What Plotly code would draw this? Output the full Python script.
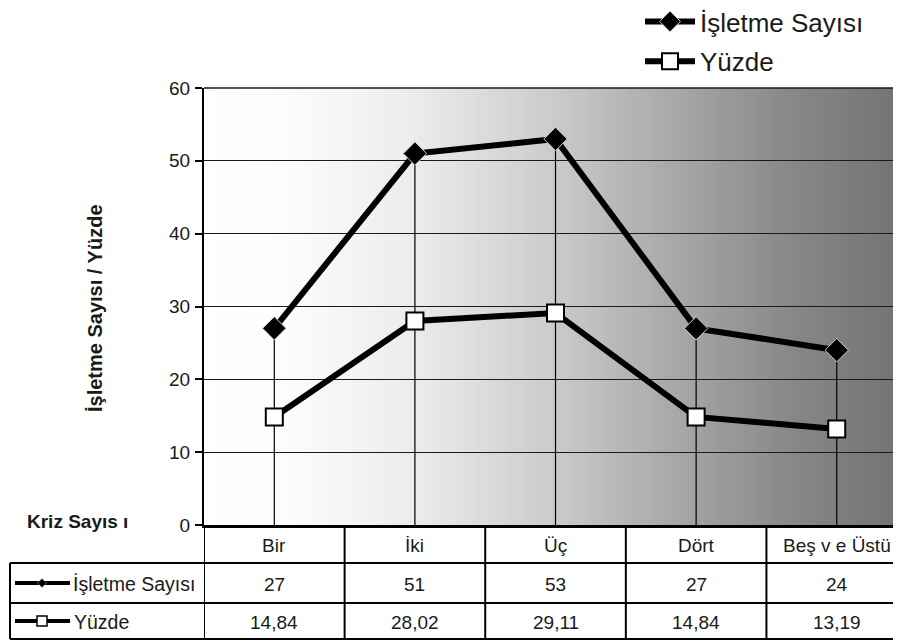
import plotly.graph_objects as go

# ---------------- data ----------------
categories = ["Bir", "İki", "Üç", "Dört", "Beş v e Üstü"]
isletme_sayisi = [27, 51, 53, 27, 24]
yuzde = [14.84, 28.02, 29.11, 14.84, 13.19]
series_names = ["İşletme Sayısı", "Yüzde"]
y_title = "İşletme Sayısı / Yüzde"
x_title = "Kriz Sayıs ı"
y_ticks = [0, 10, 20, 30, 40, 50, 60]

# ---------------- geometry helpers ----------------
OFF = 8                          # page body margin of the browser
W, H = 901 - OFF, 643 - OFF
FIG_BOTTOM = OFF + H             # page y of the figure's bottom edge
L, T, B = 204, 88, 525           # plot area left / top / bottom in page pixels
PW, PH = 901 - L, B - T
X_MAX = 4.457                    # right edge of plot (category index units)

def px(xp):
    return (xp - L) / PW

def py(yp):
    return (B - yp) / PH

FONT = "Arial, Liberation Sans, sans-serif"
idx = list(range(len(categories)))

fig = go.Figure()

# drop lines from the upper series down to the axis
dx, dy = [], []
for i, v in zip(idx, isletme_sayisi):
    dx += [i, i, None]
    dy += [0, v, None]
fig.add_trace(go.Scatter(x=dx, y=dy, mode="lines", line=dict(color="black", width=1.2),
                         showlegend=False, hoverinfo="skip"))

fig.add_trace(go.Scatter(
    x=idx, y=isletme_sayisi, name=series_names[0], mode="lines+markers",
    line=dict(color="black", width=6),
    marker=dict(symbol="diamond", size=18, color="black", line=dict(color="#d0d0d0", width=1)),
    legendgroup="a"))
fig.add_trace(go.Scatter(
    x=idx, y=yuzde, name=series_names[1], mode="lines+markers",
    line=dict(color="black", width=6),
    marker=dict(symbol="square", size=17, color="white", line=dict(color="black", width=2)),
    legendgroup="b"))

shapes = []
# gradient background (white -> dark gray, left to right)
stops = [(0.0, 255), (0.12, 252), (0.3, 236), (0.5, 203), (0.7, 163), (0.85, 135), (1.0, 115)]
def grad(t):
    for (t0, c0), (t1, c1) in zip(stops[:-1], stops[1:]):
        if t <= t1:
            return c0 + (c1 - c0) * (t - t0) / (t1 - t0)
    return stops[-1][1]
N = 120
for k in range(N):
    c = int(round(grad((k + 0.5) / N)))
    shapes.append(dict(type="rect", xref="paper", yref="paper", x0=k / N, x1=(k + 1) / N + 0.002,
                       y0=0, y1=1, fillcolor=f"rgb({c},{c},{c})", line=dict(width=0), layer="below"))
# top border line at 60
shapes.append(dict(type="line", xref="paper", yref="paper", x0=0, x1=1, y0=1, y1=1,
                   line=dict(color="#1a1a1a", width=1.5)))

# data table grid
TBL_ROWS = [525, 563, 603, 639]
ROW_MID = [(a + b) / 2 for a, b in zip(TBL_ROWS[:-1], TBL_ROWS[1:])]
lw = 2
for yb in TBL_ROWS[1:]:
    shapes.append(dict(type="line", xref="paper", yref="paper", x0=px(10), x1=1.0,
                       y0=py(yb), y1=py(yb), line=dict(color="black", width=lw)))
shapes.append(dict(type="line", xref="paper", yref="paper", x0=px(10), x1=px(10),
                   y0=py(TBL_ROWS[1]), y1=py(TBL_ROWS[3]), line=dict(color="black", width=lw)))
for i in range(len(categories)):
    shapes.append(dict(type="line", xref="x", yref="paper", x0=i - 0.5, x1=i - 0.5,
                       y0=py(TBL_ROWS[0]), y1=py(TBL_ROWS[3]), line=dict(color="black", width=lw)))

# keys in the table row labels
for yc in ROW_MID[1:]:
    shapes.append(dict(type="line", xref="paper", yref="paper", x0=px(15), x1=px(70),
                       y0=py(yc), y1=py(yc), line=dict(color="black", width=4)))
d = 4.5
y1c = ROW_MID[1]
shapes.append(dict(type="path", xref="paper", yref="paper",
                   path=f"M {px(42 - d)},{py(y1c)} L {px(42)},{py(y1c - d)} L {px(42 + d)},{py(y1c)} L {px(42)},{py(y1c + d)} Z",
                   fillcolor="black", line=dict(color="#bbbbbb", width=0.5)))
s = 5
y2c = ROW_MID[2]
shapes.append(dict(type="rect", xref="paper", yref="paper", x0=px(42 - s), x1=px(42 + s),
                   y0=py(y2c + s), y1=py(y2c - s), fillcolor="white", line=dict(color="black", width=1.5)))

annotations = []
TXT = dict(family=FONT, size=19, color="#1a1a1a")
def ann(x, y, text, xref="paper", xanchor="center", **kw):
    annotations.append(dict(x=x, xref=xref, y=y, yref="paper", text=text, showarrow=False,
                            xanchor=xanchor, yanchor="middle", **kw))
for i, c in enumerate(categories):
    ann(i, py(ROW_MID[0] + 1), c, xref="x", font=TXT)
    ann(i, py(ROW_MID[1] + 1), str(isletme_sayisi[i]), xref="x", font=TXT)
    ann(i, py(ROW_MID[2] + 1), f"{yuzde[i]:.2f}".replace(".", ","), xref="x", font=TXT)
ann(px(71), py(ROW_MID[1] + 1), series_names[0], xanchor="left", font=dict(family=FONT, size=19.5, color="#1a1a1a"))
ann(px(72), py(ROW_MID[2] + 1), series_names[1], xanchor="left", font=dict(family=FONT, size=19.5, color="#1a1a1a"))
ann(px(78), py(521), x_title, font=dict(family=FONT, size=19, color="#1a1a1a", weight="bold"))
ann(px(95), py(308), y_title, textangle=-90, font=dict(family=FONT, size=20, color="#1a1a1a", weight="bold"))

fig.update_layout(
    width=W, height=H,
    margin=dict(l=L - OFF, r=0, t=T - OFF, b=FIG_BOTTOM - B, pad=0, autoexpand=False),
    paper_bgcolor="white", plot_bgcolor="white",
    font=dict(family=FONT, color="#1a1a1a"),
    shapes=shapes, annotations=annotations,
    showlegend=True,
    legend=dict(x=px(640), y=py(-2), xanchor="left", yanchor="top",
                font=dict(family=FONT, size=26, color="#1a1a1a"),
                bgcolor="rgba(0,0,0,0)", tracegroupgap=3, itemwidth=50),
    xaxis=dict(range=[-0.5, X_MAX], showgrid=False, zeroline=False, showticklabels=False,
               ticks="", showline=True, linecolor="black", linewidth=3, fixedrange=True),
    yaxis=dict(range=[0, 60], tickvals=y_ticks, showgrid=True, gridcolor="#1a1a1a", gridwidth=1,
               zeroline=False, showline=True, linecolor="black", linewidth=2,
               ticks="outside", ticklen=7, tickwidth=1.5, tickcolor="black",
               tickfont=dict(family=FONT, size=19, color="#1a1a1a"), ticklabelstandoff=1),
)

fig.write_html("out.html")
